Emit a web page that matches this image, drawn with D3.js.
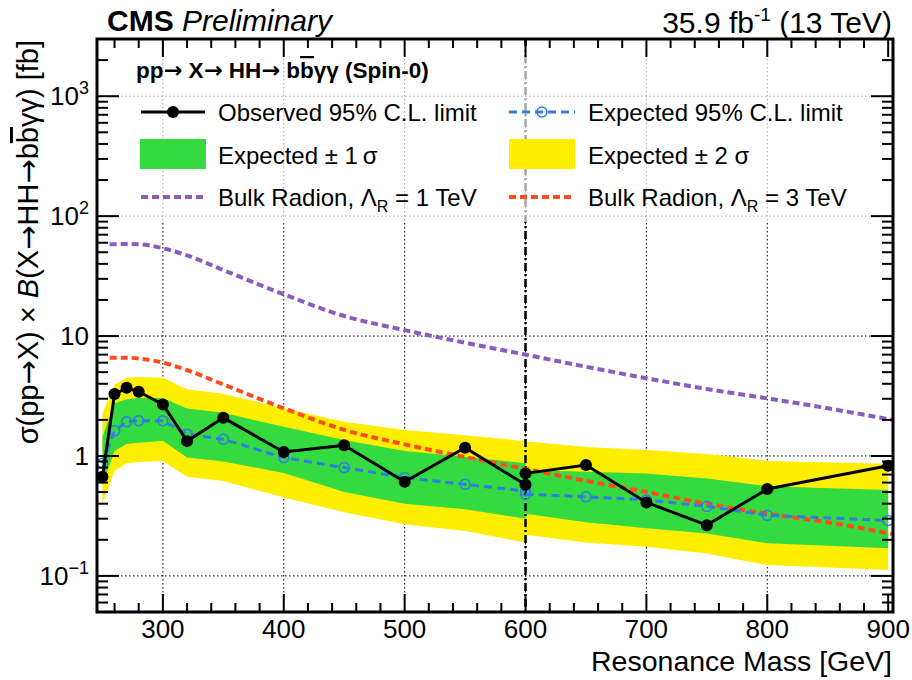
<!DOCTYPE html>
<html>
<head>
<meta charset="utf-8">
<script src="https://cdn.jsdelivr.net/npm/d3@7"></script>
<style>
  body { margin: 0; background: #fff; }
  text { font-family: "Liberation Sans", Arial, sans-serif; }
  .arr { font-family: "DejaVu Sans", sans-serif; }
</style>
</head>
<body>
<div id="chart"></div>
<script>
// mass points, low-mass and high-mass analyses meet at 600 GeV
var massLow = [250, 260, 270, 280, 300, 320, 350, 400, 450, 500, 550, 600];
var massHigh = [600, 650, 700, 750, 800, 900];

// observed / expected 95% CL limits [fb]
var obsLow = [0.67, 3.28, 3.70, 3.43, 2.69, 1.33, 2.08, 1.08, 1.23, 0.61, 1.17, 0.575];
var obsHigh = [0.716, 0.84, 0.41, 0.265, 0.53, 0.83];
var expLow = [0.87, 1.62, 1.93, 1.97, 1.97, 1.52, 1.38, 0.97, 0.80, 0.66, 0.58, 0.51];
var expHigh = [0.48, 0.457, 0.43, 0.38, 0.32, 0.29];

// bands: +2 sigma, +1 sigma, -1 sigma, -2 sigma
var up2Low = [2.27, 3.9, 4.5, 4.55, 4.5, 3.6, 3.3, 2.5, 1.93, 1.65, 1.49, 1.33];
var up1Low = [1.45, 2.75, 2.97, 3.05, 3.05, 2.49, 2.29, 1.75, 1.36, 1.10, 0.985, 0.87];
var dn1Low = [0.57, 1.10, 1.26, 1.29, 1.34, 0.97, 0.90, 0.72, 0.50, 0.40, 0.36, 0.30];
var dn2Low = [0.40, 0.75, 0.87, 0.89, 0.91, 0.67, 0.62, 0.45, 0.34, 0.27, 0.237, 0.19];
var up2High = [1.33, 1.19, 1.12, 1.04, 0.91, 0.86];
var up1High = [0.76, 0.74, 0.716, 0.65, 0.56, 0.52];
var dn1High = [0.33, 0.28, 0.25, 0.226, 0.187, 0.17];
var dn2High = [0.22, 0.19, 0.175, 0.154, 0.123, 0.112];

// bulk radion theory curves
var radionMass = [256, 270, 280, 290, 300, 320, 350, 400, 450, 500, 550, 600, 650, 700, 750, 800, 850, 903];
var radion1 = [58.3, 58.5, 58.2, 56.8, 54, 47, 35.5, 22.3, 14.7, 11.2, 8.8, 7.0, 5.55, 4.45, 3.62, 3.02, 2.5, 2.0];
var radion3 = [6.6, 6.6, 6.5, 6.3, 6.0, 5.2, 3.95, 2.5, 1.65, 1.25, 0.98, 0.78, 0.62, 0.50, 0.40, 0.33, 0.28, 0.224];

var xTicks = [300, 400, 500, 600, 700, 800, 900];
var yTicks = [0.1, 1, 10, 100, 1000];
var yTickLabels = [["10", "\u22121"], ["1", ""], ["10", ""], ["10", "2"], ["10", "3"]];

var width = 912, height = 680;
// note: "top" is a reserved window property, so use pad* names
var padL = 97, padT = 39, padR = 893, padB = 612;

var cGreen = "#34db40", cYellow = "#ffee00", cPurple = "#8a5cbd", cRed = "#fc4e1c", cBlue = "#2f7ee0";
var ARROW = '<tspan class="arr">\u2192</tspan>';

var svg = d3.select("#chart").append("svg")
    .attr("width", width)
    .attr("height", height);

var x = d3.scaleLinear().domain([245.5, 904]).range([padL, padR]);
var y = d3.scaleLog().domain([0.05, 3000]).range([padB, padT]);

svg.append("clipPath").attr("id", "plot")
  .append("rect").attr("x", padL).attr("y", padT).attr("width", padR - padL).attr("height", padB - padT);

// grid
var grid = svg.append("g").attr("stroke", "#000").attr("stroke-width", 1).attr("stroke-dasharray", "1.5,2.5");
grid.selectAll(".gx").data(xTicks.filter(function(d) { return d < 900; }))
  .enter().append("line")
    .attr("x1", function(d) { return x(d); }).attr("x2", function(d) { return x(d); })
    .attr("y1", padT).attr("y2", padB);
grid.selectAll(".gy").data(yTicks)
  .enter().append("line")
    .attr("x1", padL).attr("x2", padR)
    .attr("y1", function(d) { return y(d); }).attr("y2", function(d) { return y(d); });

var plot = svg.append("g").attr("clip-path", "url(#plot)");

function band(m, lo, hi, color) {
  var area = d3.area()
      .x(function(d, i) { return x(m[i]); })
      .y0(function(d, i) { return y(lo[i]); })
      .y1(function(d, i) { return y(hi[i]); });
  plot.append("path").datum(m).attr("d", area).attr("fill", color);
}
band(massLow, dn2Low, up2Low, cYellow);
band(massHigh, dn2High, up2High, cYellow);
band(massLow, dn1Low, up1Low, cGreen);
band(massHigh, dn1High, up1High, cGreen);

// boundary between low and high mass analyses
plot.append("line")
    .attr("x1", x(600)).attr("x2", x(600)).attr("y1", padT).attr("y2", padB)
    .attr("stroke", "#000").attr("stroke-width", 2.5).attr("stroke-dasharray", "8,3,2,3");

// radion curves
function theory(vals, color) {
  var line = d3.line()
      .x(function(d, i) { return x(radionMass[i]); })
      .y(function(d) { return y(d); })
      .curve(d3.curveMonotoneX);
  plot.append("path").datum(vals).attr("d", line)
    .attr("fill", "none").attr("stroke", color).attr("stroke-width", 4)
    .attr("stroke-dasharray", "7,4");
}
theory(radion1, cPurple);
theory(radion3, cRed);

// expected
function expected(m, vals) {
  var line = d3.line().x(function(d, i) { return x(m[i]); }).y(function(d) { return y(d); });
  plot.append("path").datum(vals).attr("d", line)
    .attr("fill", "none").attr("stroke", cBlue).attr("stroke-width", 3).attr("stroke-dasharray", "8,5");
  plot.selectAll(null).data(vals).enter().append("circle")
    .attr("cx", function(d, i) { return x(m[i]); })
    .attr("cy", function(d) { return y(d); })
    .attr("r", 5).attr("fill", "none").attr("stroke", cBlue).attr("stroke-width", 1.5);
}
expected(massLow, expLow);
expected(massHigh, expHigh);

// observed
function observed(m, vals) {
  var line = d3.line().x(function(d, i) { return x(m[i]); }).y(function(d) { return y(d); });
  plot.append("path").datum(vals).attr("d", line)
    .attr("fill", "none").attr("stroke", "#000").attr("stroke-width", 3);
  plot.selectAll(null).data(vals).enter().append("circle")
    .attr("cx", function(d, i) { return x(m[i]); })
    .attr("cy", function(d) { return y(d); })
    .attr("r", 6).attr("fill", "#000");
}
observed(massLow, obsLow);
observed(massHigh, obsHigh);

// legend (semi transparent box like ROOT)
svg.append("rect").attr("x", 120).attr("y", 46).attr("width", 760).attr("height", 176)
  .attr("fill", "#fff").attr("opacity", 0.65);

svg.append("text").attr("x", 136).attr("y", 78)
  .attr("font-size", 22.5).attr("font-weight", "bold")
  .html('pp' + ARROW + ' X' + ARROW + ' HH' + ARROW + ' b<tspan style="text-decoration: overline">b</tspan>\u03b3\u03b3 (Spin-0)');

var leg = svg.append("g").attr("font-size", 24);
leg.append("line").attr("x1", 141).attr("x2", 205).attr("y1", 112).attr("y2", 112)
  .attr("stroke", "#000").attr("stroke-width", 3);
leg.append("circle").attr("cx", 173).attr("cy", 112).attr("r", 6).attr("fill", "#000");
leg.append("text").attr("x", 218).attr("y", 121).text("Observed 95% C.L. limit");

leg.append("line").attr("x1", 509).attr("x2", 575).attr("y1", 112).attr("y2", 112)
  .attr("stroke", cBlue).attr("stroke-width", 3).attr("stroke-dasharray", "8,5");
leg.append("circle").attr("cx", 542).attr("cy", 112).attr("r", 5)
  .attr("fill", "none").attr("stroke", cBlue).attr("stroke-width", 1.5);
leg.append("text").attr("x", 588).attr("y", 121).text("Expected 95% C.L. limit");

leg.append("rect").attr("x", 140).attr("y", 139).attr("width", 66).attr("height", 30).attr("fill", cGreen);
leg.append("text").attr("x", 218).attr("y", 164).text("Expected \u00b1 1\u2009\u03c3");
leg.append("rect").attr("x", 509).attr("y", 139).attr("width", 66).attr("height", 30).attr("fill", cYellow);
leg.append("text").attr("x", 588).attr("y", 164).text("Expected \u00b1 2 \u03c3");

leg.append("line").attr("x1", 141).attr("x2", 205).attr("y1", 197).attr("y2", 197)
  .attr("stroke", cPurple).attr("stroke-width", 4).attr("stroke-dasharray", "7,4");
leg.append("text").attr("x", 218).attr("y", 206)
  .html('Bulk Radion, \u039b<tspan font-size="16" dy="6">R</tspan><tspan dy="-6"> = 1 TeV</tspan>');
leg.append("line").attr("x1", 509).attr("x2", 575).attr("y1", 197).attr("y2", 197)
  .attr("stroke", cRed).attr("stroke-width", 4).attr("stroke-dasharray", "7,4");
leg.append("text").attr("x", 588).attr("y", 206)
  .html('Bulk Radion, \u039b<tspan font-size="16" dy="6">R</tspan><tspan dy="-6"> = 3 TeV</tspan>');

// frame and ticks (ROOT style: ticks inside on all four sides)
var axes = svg.append("g").attr("stroke", "#000").attr("stroke-width", 2);
var xMinor = d3.range(260, 901, 20).filter(function(d) { return d % 100 !== 0; });
xMinor.forEach(function(d) {
  axes.append("line").attr("x1", x(d)).attr("x2", x(d)).attr("y1", padB).attr("y2", padB - 9);
  axes.append("line").attr("x1", x(d)).attr("x2", x(d)).attr("y1", padT).attr("y2", padT + 9);
});
xTicks.forEach(function(d) {
  axes.append("line").attr("x1", x(d)).attr("x2", x(d)).attr("y1", padB).attr("y2", padB - 18);
  axes.append("line").attr("x1", x(d)).attr("x2", x(d)).attr("y1", padT).attr("y2", padT + 18);
});
var yMinor = [];
[0.01, 0.1, 1, 10, 100, 1000].forEach(function(dec) {
  for (var k = 2; k <= 9; k++) {
    var v = dec * k;
    if (v >= 0.05 && v <= 3000) yMinor.push(v);
  }
});
yMinor.forEach(function(d) {
  axes.append("line").attr("x1", padL).attr("x2", padL + 11).attr("y1", y(d)).attr("y2", y(d));
  axes.append("line").attr("x1", padR).attr("x2", padR - 11).attr("y1", y(d)).attr("y2", y(d));
});
yTicks.forEach(function(d) {
  axes.append("line").attr("x1", padL).attr("x2", padL + 22).attr("y1", y(d)).attr("y2", y(d));
  axes.append("line").attr("x1", padR).attr("x2", padR - 22).attr("y1", y(d)).attr("y2", y(d));
});
svg.append("rect").attr("x", padL).attr("y", padT).attr("width", padR - padL).attr("height", padB - padT)
  .attr("fill", "none").attr("stroke", "#000").attr("stroke-width", 3);

// tick labels
svg.append("g").selectAll("text").data(xTicks).enter().append("text")
  .attr("x", function(d) { return x(d); }).attr("y", 638)
  .attr("text-anchor", "middle").attr("font-size", 26)
  .text(function(d) { return d; });

var yl = svg.append("g").selectAll("text").data(yTicks).enter().append("text")
  .attr("x", 89).attr("y", function(d) { return y(d) + 9; })
  .attr("text-anchor", "end").attr("font-size", 26);
yl.append("tspan").text(function(d, i) { return yTickLabels[i][0]; });
yl.append("tspan").attr("font-size", 18).attr("dy", -11)
  .text(function(d, i) { return yTickLabels[i][1]; });

// axis titles
svg.append("text").attr("x", 892).attr("y", 671).attr("text-anchor", "end")
  .attr("font-size", 28.5).text("Resonance Mass [GeV]");

svg.append("text").attr("transform", "translate(38,40) rotate(-90)")
  .attr("text-anchor", "end").attr("font-size", 29)
  .html('\u03c3(pp' + ARROW + 'X)  \u00d7 <tspan font-style="italic">B</tspan>(X' + ARROW + 'HH' + ARROW + 'b<tspan style="text-decoration: overline">b</tspan>\u03b3\u03b3) [fb]');

// header
svg.append("text").attr("x", 107).attr("y", 31).attr("font-size", 30)
  .html('<tspan font-weight="bold">CMS</tspan> <tspan font-style="italic">Preliminary</tspan>');
svg.append("text").attr("x", 892).attr("y", 33).attr("text-anchor", "end").attr("font-size", 30)
  .html('35.9 fb<tspan font-size="19" dy="-12">-1</tspan><tspan dy="12"> (13 TeV)</tspan>');
</script>
</body>
</html>
